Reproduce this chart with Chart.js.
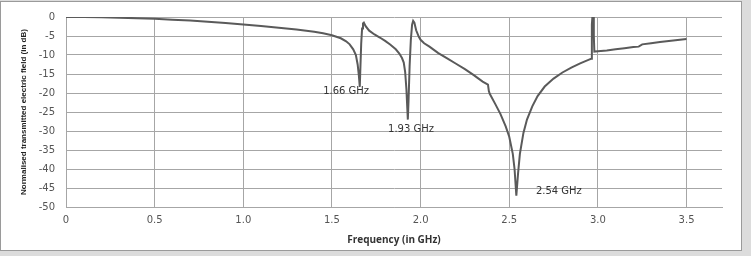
<!DOCTYPE html>
<html>
<head>
<meta charset="utf-8">
<script src="https://cdn.jsdelivr.net/npm/chart.js@4/dist/chart.umd.min.js"></script>
<style>
  html, body { margin: 0; padding: 0; background: #dcdcdc; }
  #frame { position: absolute; left: 0; top: 1px; width: 742px; height: 250px; background: #fff; border: 1px solid #9a9a9a; box-sizing: border-box; }
  #wrap { position: absolute; left: 0; top: 0; width: 751px; height: 256px; }
</style>
</head>
<body>
<div id="frame"></div>
<div id="wrap"><canvas id="c" width="751" height="256"></canvas></div>
<script>
// Frequency (GHz)
const freq = [
  0, 0.1, 0.2, 0.3, 0.4, 0.5, 0.6, 0.7, 0.8, 0.9, 1.0, 1.1, 1.2, 1.3, 1.4, 1.45, 1.5, 1.55, 1.58, 1.6,
  1.62, 1.635, 1.645, 1.652, 1.657, 1.66, 1.665, 1.67, 1.675, 1.68, 1.69, 1.71, 1.74, 1.77, 1.8,
  1.83, 1.86, 1.88, 1.895, 1.905, 1.913, 1.92, 1.925, 1.928, 1.932, 1.938, 1.945, 1.952, 1.958,
  1.965, 1.975, 1.99, 2.0, 2.02, 2.05, 2.1, 2.15, 2.2, 2.25, 2.3, 2.35, 2.38, 2.385, 2.39, 2.42,
  2.45, 2.48, 2.5, 2.52, 2.53, 2.54, 2.55, 2.56, 2.58, 2.6, 2.63, 2.66, 2.7, 2.75, 2.8, 2.85, 2.9,
  2.95, 2.962, 2.966, 2.969, 2.973, 2.977, 2.98, 3.0, 3.05, 3.1, 3.15, 3.2, 3.23, 3.25, 3.3, 3.35,
  3.4, 3.45, 3.5
];
// Normalised transmitted electric field (dB)
const field = [
  0, -0.02, -0.08, -0.18, -0.3, -0.45, -0.7, -0.95, -1.25, -1.6, -2.0, -2.4, -2.8, -3.3, -3.9, -4.3, -4.8, -5.6, -6.4, -7.2,
  -8.5, -10, -12.5, -15.5, -18.4, -14, -7, -3, -1.7, -1.5, -2.4, -3.6, -4.6, -5.4, -6.3,
  -7.3, -8.5, -9.6, -10.8, -12, -14.5, -19, -24, -27, -22, -13, -6, -2, -1,
  -1.5, -3.5, -5.2, -6, -6.9, -7.8, -9.5, -10.9, -12.3, -13.7, -15.3, -17, -17.8, -19.5, -20.2, -22.8,
  -25.5, -28.8, -31.5, -36, -40, -47, -41, -36, -30.5, -27, -23.5, -20.8, -18.3, -16.2, -14.6, -13.3, -12.2,
  -11.2, -11, -2, 0, 0, -5, -9.1, -9, -8.8, -8.5, -8.2, -7.9, -7.8, -7.2, -6.9, -6.6,
  -6.3, -6.05, -5.8
];
// Resonance annotations (text, anchor in data units)
const noteText = ['1.66 GHz', '1.93 GHz', '2.54 GHz'];
const noteFreq = [1.58, 1.946, 2.78];
const noteDb = [-19.7, -29.5, -46];

const xTitle = 'Frequency (in GHz)';
const yTitle = 'Normalised transmitted electric field (in dB)';

const points = freq.map((f, i) => ({ x: f, y: field[i] }));

const notesPlugin = {
  id: 'notes',
  afterDatasetsDraw(chart) {
    const ctx = chart.ctx;
    const xs = chart.scales.x, ys = chart.scales.y;
    ctx.save();
    ctx.font = '10px "DejaVu Sans"';
    ctx.fillStyle = '#333333';
    ctx.textAlign = 'center';
    ctx.textBaseline = 'middle';
    noteText.forEach((t, i) => {
      ctx.fillText(t, xs.getPixelForValue(noteFreq[i]), ys.getPixelForValue(noteDb[i]));
    });
    ctx.restore();
  }
};

new Chart(document.getElementById('c'), {
  type: 'line',
  data: {
    datasets: [{
      data: points,
      borderColor: '#5a5a5a',
      borderWidth: 2,
      pointRadius: 0,
      tension: 0,
      fill: false
    }]
  },
  options: {
    responsive: false,
    animation: false,
    events: [],
    layout: { padding: { left: 0, right: 29, top: 12, bottom: 0 } },
    plugins: { legend: { display: false }, tooltip: { enabled: false } },
    scales: {
      x: {
        type: 'linear',
        min: 0,
        max: 3.7,
        afterBuildTicks(scale) {
          scale.ticks = scale.ticks.filter(t => Math.abs(t.value * 2 - Math.round(t.value * 2)) < 1e-9);
        },
        afterFit(scale) { scale.height = 49; },
        ticks: {
          stepSize: 0.5,
          color: '#555555',
          font: { family: 'DejaVu Sans', size: 10 },
          padding: 7,
          maxRotation: 0,
          autoSkip: false
        },
        grid: { color: '#a6a6a6', drawTicks: false, lineWidth: 1 },
        border: { color: '#a6a6a6' },
        title: {
          display: true,
          text: xTitle,
          color: '#333333',
          font: { family: 'Open Sans', size: 10, weight: 'bold' },
          padding: { top: 0, bottom: 10 }
        }
      },
      y: {
        min: -50,
        max: 0,
        afterFit(scale) { scale.width = 66; },
        ticks: {
          stepSize: 5,
          color: '#555555',
          font: { family: 'DejaVu Sans', size: 10 },
          padding: 11
        },
        grid: { color: '#a6a6a6', drawTicks: false, lineWidth: 1 },
        border: { color: '#a6a6a6' },
        title: {
          display: true,
          text: yTitle,
          color: '#222222',
          font: { family: 'Liberation Sans', size: 8, weight: 'bold' },
          padding: { top: 19, bottom: 0 }
        }
      }
    }
  },
  plugins: [notesPlugin]
});
</script>
</body>
</html>
